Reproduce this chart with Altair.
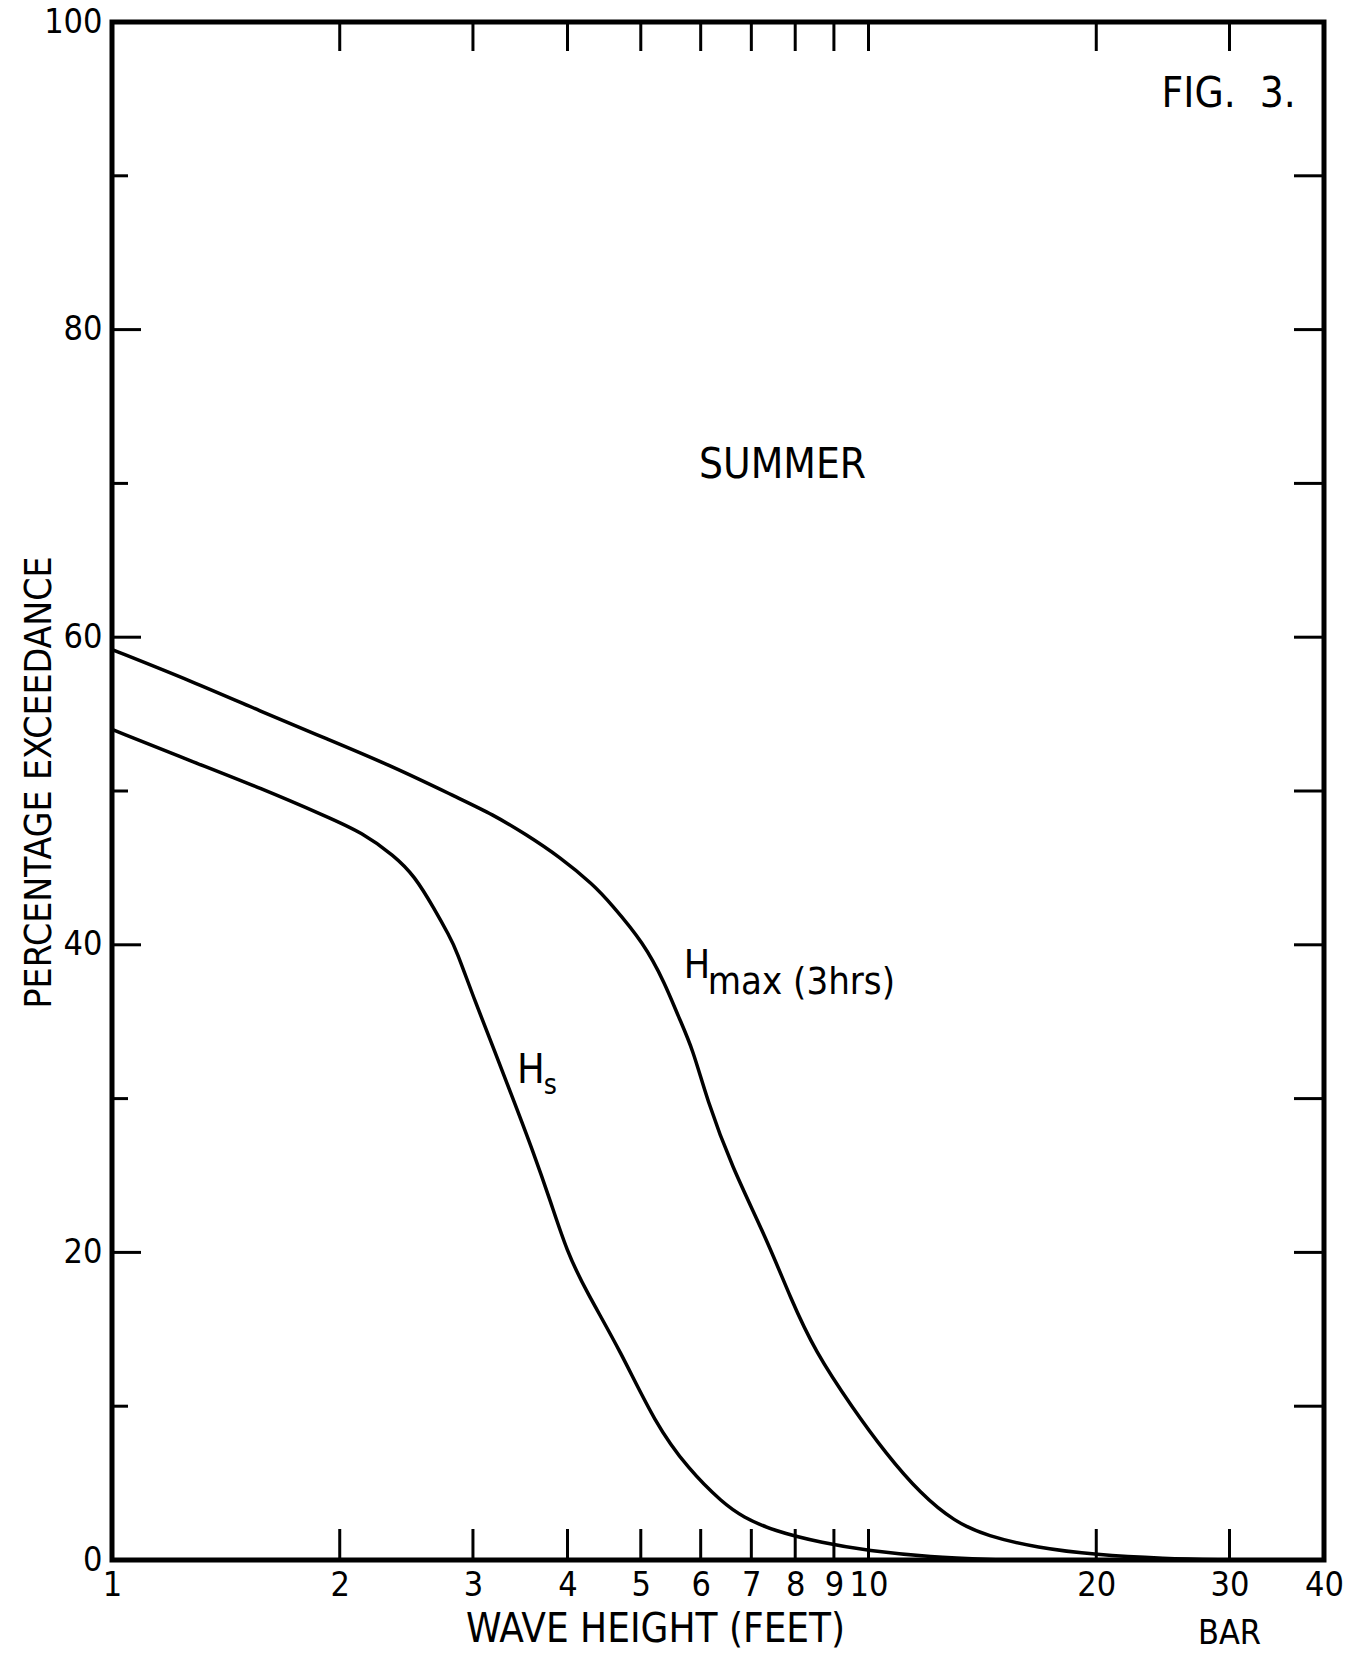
import altair as alt
import pandas as pd

# ---- data ----
hmax_x = [1.0, 1.28, 1.57, 1.92, 2.35, 2.88, 3.18, 3.52, 3.91, 4.33, 4.56, 5.05, 5.38,
          5.61, 5.86, 6.11, 6.59, 7.33, 7.89, 8.49, 9.52, 10.55, 11.72, 12.98, 14.35,
          16.7, 20.0, 24.5, 30.0]
hmax_y = [59.2, 57.1, 55.2, 53.4, 51.6, 49.5, 48.5, 47.2, 45.7, 43.9, 42.7, 40.1, 37.5,
          35.3, 33.2, 30.0, 25.6, 20.9, 17.0, 13.6, 9.9, 6.9, 4.3, 2.5, 1.55,
          0.8, 0.33, 0.1, 0.0]
hs_x = [1.0, 1.28, 1.57, 1.93, 2.14, 2.36, 2.51, 2.67, 2.79, 2.85, 3.02, 3.21, 3.40,
        3.60, 3.80, 3.99, 4.23, 4.70, 5.22, 5.78, 6.42, 6.82, 7.48, 8.70, 10.0, 12.0, 15.0]
hs_y = [54.0, 51.9, 50.2, 48.3, 47.3, 45.8, 44.5, 42.3, 40.6, 39.7, 36.3, 33.0, 29.8,
        26.6, 23.3, 20.1, 17.5, 13.6, 8.9, 5.9, 3.7, 2.8, 1.9, 1.1, 0.6, 0.2, 0.0]

x_labels = [1, 2, 3, 4, 5, 6, 7, 8, 9, 10, 20, 30, 40]
x_ticks = [2, 3, 4, 5, 6, 7, 8, 9, 10, 20, 30]
y_labels = [0, 20, 40, 60, 80, 100]
y_major_ticks = [20, 40, 60, 80]
y_minor_ticks = [10, 30, 50, 70, 90]
y_all_ticks = [10, 20, 30, 40, 50, 60, 70, 80, 90]

FONT = "DejaVu Sans Condensed, Liberation Sans Narrow, Liberation Sans"
LEFT, TOP = 112, 22
W, H = 1212, 1538

curves = pd.concat([
    pd.DataFrame({"x": hmax_x, "y": hmax_y, "series": "Hmax"}),
    pd.DataFrame({"x": hs_x, "y": hs_y, "series": "Hs"}),
])

x_axis = alt.Axis(values=x_labels, format="d", ticks=False, domain=False, grid=False,
                  labelFlush=False, labelOverlap=False, labelBound=False,
                  labelPadding=8, labelFontSize=34, labelFont=FONT, labelColor="black",
                  title="WAVE HEIGHT  (FEET)", titleFont=FONT, titleFontSize=40,
                  titleFontWeight="normal", titleColor="black",
                  titleX=655 - LEFT, titleY=81, titleAlign="center",
                  titleBaseline="alphabetic")
y_axis = alt.Axis(values=y_labels, format="d", ticks=False, domain=False, grid=False,
                  labelFlush=False, labelOverlap=False, labelBound=False,
                  labelPadding=10, labelFontSize=34, labelFont=FONT, labelColor="black",
                  labelBaseline="middle",
                  title="PERCENTAGE  EXCEEDANCE", titleFont=FONT, titleFontSize=37,
                  titleFontWeight="normal", titleColor="black",
                  titleX=50 - LEFT, titleY=760, titleAlign="center", titleAngle=-90,
                  titleBaseline="alphabetic")

xs = alt.Scale(type="log", domain=[1, 40], nice=False)
ys = alt.Scale(domain=[0, 100], nice=False)

lines = alt.Chart(curves).mark_line(color="black", strokeWidth=3.5,
                                    interpolate="basis", clip=True).encode(
    x=alt.X("x:Q", scale=xs, axis=x_axis),
    y=alt.Y("y:Q", scale=ys, axis=y_axis),
    detail="series:N",
)

xt = pd.DataFrame({"v": x_ticks})
bottom_ticks = alt.Chart(xt).mark_rule(color="black", strokeWidth=3).encode(
    x=alt.X("v:Q"), y=alt.value(H), y2=alt.value(H - 31))
top_ticks = alt.Chart(xt).mark_rule(color="black", strokeWidth=3).encode(
    x=alt.X("v:Q"), y=alt.value(0), y2=alt.value(29))

left_major = alt.Chart(pd.DataFrame({"v": y_major_ticks})).mark_rule(
    color="black", strokeWidth=3).encode(
    y=alt.Y("v:Q"), x=alt.value(0), x2=alt.value(29))
left_minor = alt.Chart(pd.DataFrame({"v": y_minor_ticks})).mark_rule(
    color="black", strokeWidth=3).encode(
    y=alt.Y("v:Q"), x=alt.value(0), x2=alt.value(16))
right_ticks = alt.Chart(pd.DataFrame({"v": y_all_ticks})).mark_rule(
    color="black", strokeWidth=3).encode(
    y=alt.Y("v:Q"), x=alt.value(W), x2=alt.value(W - 30))

one = pd.DataFrame({"a": [0]})


def label(text, xv, yv, size, align="left"):
    return alt.Chart(one).mark_text(text=text, font=FONT, fontSize=size, color="black",
                                    align=align, baseline="alphabetic").encode(
        x=alt.datum(xv), y=alt.datum(yv))


fig = label("FIG.\u00a0 3.", 24.4, 94.47, 42)
summer = label("SUMMER", 5.97, 70.35, 42)
hmax_h = label("H", 5.70, 37.84, 39)
hmax_sub = label("max (3hrs)", 6.13, 36.8, 38)
hs_h = label("H", 3.43, 31.0, 41)
hs_sub = label("s", 3.72, 30.3, 28)
bar = alt.Chart(one).mark_text(text="BAR", font=FONT, fontSize=34, color="black",
                               align="center", baseline="alphabetic").encode(
    x=alt.datum(30), y=alt.value(H + 84))

chart = alt.layer(
    lines, bottom_ticks, top_ticks, left_major, left_minor, right_ticks,
    fig, summer, hmax_h, hmax_sub, hs_h, hs_sub, bar,
).properties(
    width=W, height=H,
    autosize=alt.AutoSizeParams(type="none"),
    padding={"left": LEFT, "top": TOP, "right": 1351 - LEFT - W,
             "bottom": 1653 - TOP - H},
    background="white",
).configure_view(stroke="black", strokeWidth=5)

chart.save("out.html", embed_options={"renderer": "svg", "actions": False})
